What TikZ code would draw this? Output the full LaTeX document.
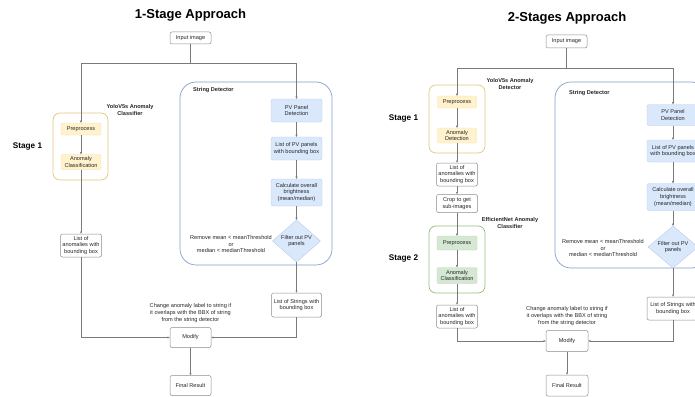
\documentclass[tikz,border=0pt]{standalone}
\usepackage{fontspec}
\setmainfont{Liberation Sans}
\usetikzlibrary{arrows.meta,shapes.geometric}
\definecolor{yfill}{HTML}{FFF2CC}
\definecolor{ystroke}{HTML}{D6B656}
\definecolor{bfill}{HTML}{DAE8FC}
\definecolor{bstroke}{HTML}{6C8EBF}
\definecolor{gfill}{HTML}{D5E8D4}
\definecolor{gstroke}{HTML}{82B366}
\definecolor{edgec}{HTML}{7A7A7A}
\definecolor{nodeb}{HTML}{8C8C8C}
\begin{document}
\begin{tikzpicture}[x=1pt,y=-1pt,
  txt/.style={font=\fontsize{5.6}{6.6}\selectfont, align=center, inner sep=0pt, text=black!85},
  lbl/.style={font=\bfseries\fontsize{5.6}{7}\selectfont, align=center, inner sep=0pt, text=black!85},
  stagelbl/.style={font=\bfseries\fontsize{8.2}{10}\selectfont, inner sep=0pt},
  ttl/.style={font=\bfseries\fontsize{13}{15}\selectfont, inner sep=0pt},
  plain/.style={txt, draw=nodeb, line width=0.5pt, rounded corners=2pt, fill=white},
  ynode/.style={txt, fill=yfill, draw=yfill!70!ystroke, line width=0.3pt, rounded corners=1pt},
  bnode/.style={txt, fill=bfill, draw=bfill!70!bstroke, line width=0.3pt, rounded corners=2pt},
  gnode/.style={txt, fill=gfill, draw=gfill!70!gstroke, line width=0.3pt, rounded corners=1pt},
  dia/.style={diamond, fill=bfill, draw=bfill!60!bstroke, line width=0.3pt, inner sep=0pt},
  ycont/.style={draw=ystroke!75, line width=0.7pt, rounded corners=7pt, fill=white},
  gcont/.style={draw=gstroke!85, line width=0.7pt, rounded corners=7pt, fill=white},
  bcont/.style={draw=bstroke!85, line width=0.7pt, rounded corners=16pt, fill=white},
  arr/.style={draw=edgec, line width=0.55pt, -{Triangle[length=2.2pt,width=2pt]}},
  ln/.style={draw=edgec, line width=0.55pt},
]
\useasboundingbox (0,0) rectangle (695,396);
\clip (0,0) rectangle (695,396);

% ================= LEFT: 1-Stage =================
\node[ttl] (t1) at (190.5,15) {1-Stage Approach};
\node[plain, minimum width=41, minimum height=12] (in1) at (190.5,38) {Input image};
\coordinate (j1) at (190.5,63);

\node[ycont, minimum width=55, minimum height=67] (yc1) at (80.5,146.5) {};
\node[lbl] (yl1) at (130,110) {YoloV5s Anomaly\\Classifier};
\node[ynode, minimum width=40, minimum height=12] (pp1) at (81,129) {Preprocess};
\node[ynode, minimum width=40, minimum height=15] (ac1) at (81,162) {Anomaly\\Classification};
\node[stagelbl] (s1a) at (27.5,147) {Stage 1};
\node[plain, minimum width=41, minimum height=23] (la1) at (81,245.5) {List of\\anomalies with\\bounding box};

\node[bcont, minimum width=152, minimum height=183] (sd1) at (256,173.5) {};
\node[lbl, anchor=west] (sl1) at (193,90) {String Detector};
\node[bnode, minimum width=51, minimum height=23] (pv1) at (296.5,110.5) {PV Panel\\Detection};
\node[bnode, minimum width=51, minimum height=23] (lp1) at (296.5,148.5) {List of PV panels\\with bounding box};
\node[bnode, minimum width=51, minimum height=27] (cb1) at (296.5,192.5) {Calculate overall\\brightness\\(mean/median)};
\node[dia, minimum width=48, minimum height=42, label={[txt]center:Filter out PV\\panels}] (fo1) at (296.5,241) {};
\node[txt] (rm1) at (231,244) {Remove mean < meanThreshold\\or\\median < medianThreshold};
\node[plain, minimum width=50, minimum height=24] (ls1) at (296.5,305) {List of Strings with\\bounding box};

\node[txt] (ch1) at (190.5,313) {Change anomaly label to string if\\it overlaps with the BBX of string\\from the string detector};
\node[plain, minimum width=41, minimum height=20] (mod1) at (190.5,337.5) {Modify};
\node[plain, minimum width=41, minimum height=20] (fr1) at (190.5,385.5) {Final Result};

\draw[ln] (in1.south) -- (j1);
\draw[arr] (j1) -| (pp1.north);
\draw[arr] (j1) -| (pv1.north);
\draw[arr] (pp1) -- (ac1);
\draw[arr] (ac1) -- (la1);
\draw[arr] (pv1) -- (lp1);
\draw[arr] (lp1) -- (cb1);
\draw[arr] (cb1) -- (fo1);
\draw[arr] (fo1) -- (ls1);
\draw[arr] (la1.south) |- (mod1.west);
\draw[arr] (ls1.south) |- (mod1.east);
\draw[arr] (mod1) -- (fr1);

% ================= RIGHT: 2-Stages =================
\node[ttl] (t2) at (567,18) {2-Stages Approach};
\node[plain, minimum width=41, minimum height=13] (in2) at (566.5,41.5) {Input image};
\coordinate (j2) at (566.5,68);

\node[ycont, minimum width=56, minimum height=68] (yc2) at (457,119) {};
\node[lbl] (yl2) at (510,83.5) {YoloV5s Anomaly\\Detector};
\node[ynode, minimum width=39, minimum height=12] (pp2) at (457,102) {Preprocess};
\node[ynode, minimum width=39, minimum height=15] (ad2) at (457,135.5) {Anomaly\\Detection};
\node[stagelbl] (s1b) at (403.5,119) {Stage 1};
\node[plain, minimum width=41, minimum height=23] (la2) at (457,174.5) {List of\\anomalies with\\bounding box};
\node[plain, minimum width=41, minimum height=18] (cr2) at (457,203.5) {Crop to get\\sub-images};

\node[gcont, minimum width=56, minimum height=67] (gc2) at (457,259.5) {};
\node[lbl] (el2) at (510,223) {EfficientNet Anomaly\\Classifier};
\node[gnode, minimum width=40, minimum height=14] (pp3) at (457,243) {Preprocess};
\node[gnode, minimum width=40, minimum height=16] (ac3) at (457,275.5) {Anomaly\\Classification};
\node[stagelbl] (s2b) at (403.5,259) {Stage 2};
\node[plain, minimum width=41, minimum height=23] (la3) at (457,316.5) {List of\\anomalies with\\bounding box};

\node[bcont, minimum width=152, minimum height=186] (sd2) at (631,175) {};
\node[lbl, anchor=west] (sl2) at (569,93) {String Detector};
\node[bnode, minimum width=52, minimum height=21] (pv2) at (673,115) {PV Panel\\Detection};
\node[bnode, minimum width=52, minimum height=22] (lp2) at (673,151) {List of PV panels\\with bounding box};
\node[bnode, minimum width=52, minimum height=27] (cb2) at (673,197) {Calculate overall\\brightness\\(mean/median)};
\node[dia, minimum width=50, minimum height=42, label={[txt]center:Filter out PV\\panels}] (fo2) at (673,247) {};
\node[txt] (rm2) at (603,248) {Remove mean < meanThreshold\\or\\median < medianThreshold};
\node[plain, minimum width=52, minimum height=23] (ls2) at (673,308.5) {List of Strings with\\bounding box};

\node[txt] (ch2) at (567,316) {Change anomaly label to string if\\it overlaps with the BBX of string\\from the string detector};
\node[plain, minimum width=42, minimum height=21] (mod2) at (567,341) {Modify};
\node[plain, minimum width=42, minimum height=21] (fr2) at (567,385.5) {Final Result};

\draw[ln] (in2.south) -- (j2);
\draw[arr] (j2) -| (pp2.north);
\draw[arr] (j2) -| (pv2.north);
\draw[arr] (pp2) -- (ad2);
\draw[arr] (ad2) -- (la2);
\draw[arr] (la2) -- (cr2);
\draw[arr] (cr2) -- (pp3);
\draw[arr] (pp3) -- (ac3);
\draw[arr] (ac3) -- (la3);
\draw[arr] (pv2) -- (lp2);
\draw[arr] (lp2) -- (cb2);
\draw[arr] (cb2) -- (fo2);
\draw[arr] (fo2) -- (ls2);
\draw[arr] (la3.south) |- (mod2.west);
\draw[arr] (ls2.south) |- (mod2.east);
\draw[arr] (mod2) -- (fr2);
\end{tikzpicture}
\end{document}
